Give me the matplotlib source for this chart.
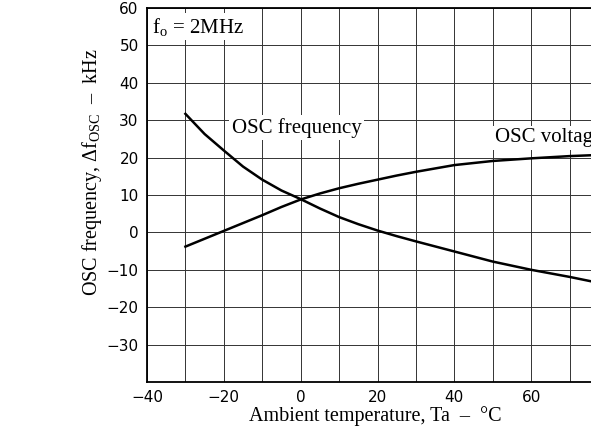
import matplotlib
matplotlib.use("Agg")
import matplotlib.pyplot as plt

# values (temperature in degC, deviation in kHz)
temp = [-30, -25, -20, -15, -10, -5, 0, 5, 10, 15, 20, 25, 30, 40, 50, 60, 70, 80]
osc_frequency = [31.7, 26.3, 21.9, 17.6, 14.1, 11.2, 8.9, 6.4, 4.1, 2.2, 0.5, -1.0,
                 -2.4, -5.1, -7.8, -10.0, -11.9, -14.0]
osc_voltage = [-3.8, -1.7, 0.4, 2.5, 4.6, 6.8, 8.8, 10.4, 11.8, 13.0, 14.1, 15.2,
               16.2, 18.0, 19.1, 19.8, 20.4, 20.8]

x_ticks = [-40, -20, 0, 20, 40, 60, 80]
y_ticks = [60, 50, 40, 30, 20, 10, 0, -10, -20, -30]
x_grid = list(range(-40, 81, 10))
y_grid = list(range(-40, 61, 10))

plt.rcParams["mathtext.fontset"] = "custom"
plt.rcParams["mathtext.rm"] = "Liberation Serif"
plt.rcParams["mathtext.it"] = "Liberation Serif:italic"

fig = plt.figure(figsize=(5.91, 4.30), dpi=100)
# axes run past the right edge of the figure, as in the cropped original
ax = fig.add_axes([147 / 591, 48 / 430, 461 / 591, 374 / 430])

ax.set_xlim(-40, 80)
ax.set_ylim(-40, 60)

for gx in x_grid:
    ax.axvline(gx, color="#333333", lw=0.7, zorder=1)
for gy in y_grid:
    ax.axhline(gy, color="#333333", lw=0.7, zorder=1)

ax.plot(temp, osc_frequency, color="black", lw=1.8, zorder=3)
ax.plot(temp, osc_voltage, color="black", lw=1.8, zorder=3)

ax.set_xticks(x_ticks)
ax.set_yticks(y_ticks)
ax.set_xticklabels([str(v).replace("-", "\u2212") for v in x_ticks],
                   fontsize=11, family="DejaVu Sans")
ax.set_yticklabels([str(v).replace("-", "\u2212") for v in y_ticks],
                   fontsize=11, family="DejaVu Sans")
ax.tick_params(length=0, pad=6)
for s in ax.spines.values():
    s.set_linewidth(1.3)

serif = "Liberation Serif"
box = dict(facecolor="white", edgecolor="none", pad=2)
ax.text(-38.7, 55.0, r"f$_{\rm o}$ = 2MHz", family=serif, fontsize=15,
        va="center", ha="left", bbox=box, zorder=4)
ax.text(-17.9, 28.0, "OSC frequency", family=serif, fontsize=15,
        va="center", ha="left", bbox=box, zorder=4)
ax.text(50.6, 25.3, "OSC voltage", family=serif, fontsize=15,
        va="center", ha="left", bbox=box, zorder=4)

fig.text(375 / 591, 1 - 416 / 430, "Ambient temperature, Ta  \u2013  \u00b0C",
         family=serif, fontsize=14.5, ha="center", va="center")
fig.text(92 / 591, 1 - 172 / 430,
         r"OSC frequency, $\Delta$f$_{\rm OSC}$  " + "\u2013  kHz",
         family=serif, fontsize=14.5, ha="center", va="center", rotation=90)

fig.savefig("out.png", dpi=100)
